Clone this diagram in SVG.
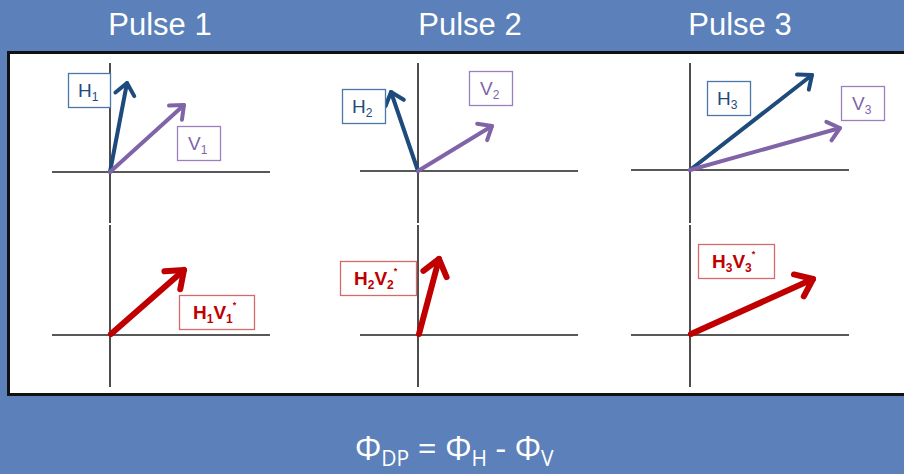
<svg xmlns="http://www.w3.org/2000/svg" width="904" height="474" viewBox="0 0 904 474">
<style>
.title{font-family:"Liberation Sans",Arial,sans-serif;font-size:31px;fill:#fff;text-anchor:middle}
.formula{font-family:"Open Sans","Noto Sans",sans-serif;font-size:33px;fill:#fff}
.sub{font-size:21px}
.axis{stroke:#222;stroke-width:1.6;fill:none}
.vec{fill:none;stroke-linecap:round}
.blue{stroke:#1f4a7c;stroke-width:4}
.purple{stroke:#8064a8;stroke-width:4}
.red{stroke:#c00000;stroke-width:6}
.box{fill:#fff;stroke-width:1.3}
.bbox{stroke:#4a76a8}
.pbox{stroke:#9a80bd}
.rbox{stroke:#d46a6a}
.lbl{font-family:"Liberation Sans",Arial,sans-serif;font-size:19px}
.lsub{font-size:12px}
.lsup{font-size:9px}
.tb{fill:#1f4a7c}
.tp{fill:#8064a8}
.tr{fill:#c00000;font-weight:bold}
</style>
<defs>
<marker id="hb" markerUnits="userSpaceOnUse" markerWidth="40" markerHeight="40" refX="0" refY="0" orient="auto" overflow="visible">
<path d="M-11.5,-9.6 L0,0 L-11.5,9.6" fill="none" stroke="#1f4a7c" stroke-width="4" stroke-linecap="round" stroke-linejoin="round"/>
</marker>
<marker id="hp" markerUnits="userSpaceOnUse" markerWidth="40" markerHeight="40" refX="0" refY="0" orient="auto" overflow="visible">
<path d="M-11.5,-9.6 L0,0 L-11.5,9.6" fill="none" stroke="#8064a8" stroke-width="4" stroke-linecap="round" stroke-linejoin="round"/>
</marker>
<marker id="hr" markerUnits="userSpaceOnUse" markerWidth="60" markerHeight="60" refX="0" refY="0" orient="auto" overflow="visible">
<path d="M-15.5,-12 L0,0 L-15.5,12" fill="none" stroke="#c00000" stroke-width="6" stroke-linecap="round" stroke-linejoin="round"/>
</marker>
</defs>
<rect x="0" y="0" width="904" height="474" fill="#5b80ba"/>
<rect x="8.5" y="52.5" width="910" height="342" fill="#fff" stroke="#111" stroke-width="3"/>

<g id="titles">
<text class="title" x="160" y="35">Pulse 1</text>
<text class="title" x="470" y="35">Pulse 2</text>
<text class="title" x="740" y="35">Pulse 3</text>
</g>

<g id="axes">
<path class="axis" d="M110,63 V223 M52,172 H270 M110,225 V387 M52,335 H270"/>
<path class="axis" d="M418,63 V223 M360,171 H578 M418,225 V387 M360,335 H578"/>
<path class="axis" d="M690,63 V223 M631,170 H849 M690,225 V387 M631,335 H849"/>
</g>

<g id="connectors">
<line class="vec blue" x1="110" y1="172" x2="127" y2="83" marker-end="url(#hb)"/>
<line class="vec purple" x1="110" y1="172" x2="184" y2="105" marker-end="url(#hp)"/>
<line class="vec blue" x1="418" y1="171" x2="391" y2="92" marker-end="url(#hb)"/>
<line class="vec purple" x1="418" y1="171" x2="492" y2="126" marker-end="url(#hp)"/>
<line class="vec blue" x1="690" y1="170" x2="812" y2="75" marker-end="url(#hb)"/>
<line class="vec purple" x1="690" y1="170" x2="840" y2="128" marker-end="url(#hp)"/>
<line class="vec red" x1="111" y1="334" x2="184" y2="270" marker-end="url(#hr)"/>
<line class="vec red" x1="419" y1="334" x2="439" y2="259" marker-end="url(#hr)"/>
<line class="vec red" x1="691" y1="334" x2="813" y2="279" marker-end="url(#hr)"/>
</g>

<g id="H1"><rect class="box bbox" x="68.5" y="73.5" width="42" height="34"/><text class="lbl tb" x="78" y="97">H<tspan class="lsub" dy="4">1</tspan></text></g>
<g id="V1"><rect class="box pbox" x="177.5" y="126.5" width="43" height="34"/><text class="lbl tp" x="188" y="150">V<tspan class="lsub" dy="4">1</tspan></text></g>
<g id="H2"><rect class="box bbox" x="342.5" y="89.5" width="43" height="34"/><text class="lbl tb" x="352" y="113">H<tspan class="lsub" dy="4">2</tspan></text></g>
<g id="V2"><rect class="box pbox" x="469.5" y="71.5" width="43" height="34"/><text class="lbl tp" x="480" y="95">V<tspan class="lsub" dy="4">2</tspan></text></g>
<g id="H3"><rect class="box bbox" x="707.5" y="81.5" width="43" height="34"/><text class="lbl tb" x="717" y="105">H<tspan class="lsub" dy="4">3</tspan></text></g>
<g id="V3"><rect class="box pbox" x="841.5" y="86.5" width="43" height="34"/><text class="lbl tp" x="852" y="110">V<tspan class="lsub" dy="4">3</tspan></text></g>

<g id="H1V1"><rect class="box rbox" x="179.5" y="295.5" width="75" height="34"/><text class="lbl tr" x="193" y="319">H<tspan class="lsub" dy="4">1</tspan><tspan dy="-4">V</tspan><tspan class="lsub" dy="4">1</tspan><tspan class="lsup" dy="-15">*</tspan></text></g>
<g id="H2V2"><rect class="box rbox" x="340.5" y="261.5" width="76" height="34"/><text class="lbl tr" x="354" y="285">H<tspan class="lsub" dy="4">2</tspan><tspan dy="-4">V</tspan><tspan class="lsub" dy="4">2</tspan><tspan class="lsup" dy="-15">*</tspan></text></g>
<g id="H3V3"><rect class="box rbox" x="698.5" y="244.5" width="76" height="34"/><text class="lbl tr" x="712" y="268">H<tspan class="lsub" dy="4">3</tspan><tspan dy="-4">V</tspan><tspan class="lsub" dy="4">3</tspan><tspan class="lsup" dy="-15">*</tspan></text></g>

<g id="formula">
<text class="formula" x="355" y="460">Φ<tspan class="sub" dy="6">DP</tspan><tspan dy="-6"> = Φ</tspan><tspan class="sub" dy="6">H</tspan><tspan dy="-6"> - Φ</tspan><tspan class="sub" dy="6">V</tspan></text>
</g>
</svg>
